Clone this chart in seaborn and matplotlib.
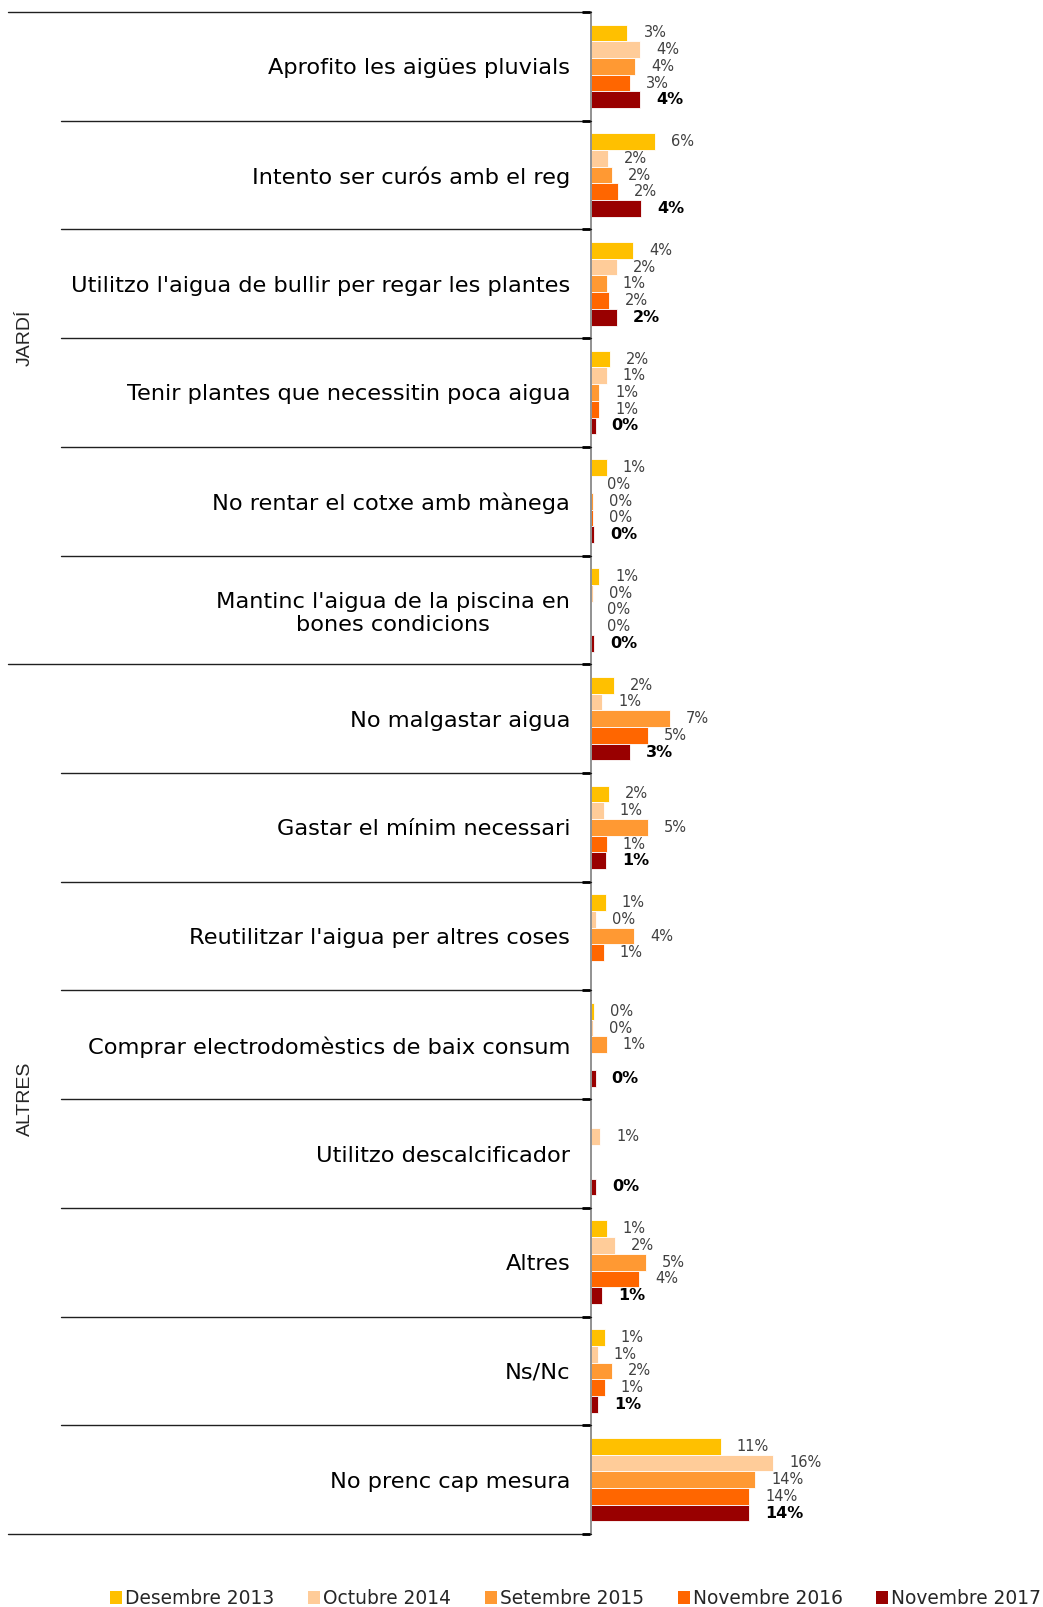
import numpy as np
import pandas as pd
import seaborn as sns
import matplotlib.pyplot as plt
from matplotlib.lines import Line2D
from matplotlib.patches import Patch
from matplotlib.transforms import blended_transform_factory

sns.set_style("white")
plt.rcParams['font.family'] = ['DejaVu Sans']

categories = [
    "Aprofito les aigües pluvials",
    "Intento ser curós amb el reg",
    "Utilitzo l'aigua de bullir per regar les plantes",
    "Tenir plantes que necessitin poca aigua",
    "No rentar el cotxe amb mànega",
    "Mantinc l'aigua de la piscina en\nbones condicions",
    "No malgastar aigua",
    "Gastar el mínim necessari",
    "Reutilitzar l'aigua per altres coses",
    "Comprar electrodomèstics de baix consum",
    "Utilitzo descalcificador",
    "Altres",
    "Ns/Nc",
    "No prenc cap mesura",
]
series = ["Desembre 2013", "Octubre 2014", "Setembre 2015", "Novembre 2016", "Novembre 2017"]
colors = ["#FFC000", "#FFCC99", "#FF9933", "#FF6600", "#990000"]

nan = np.nan
des2013 = [3.2, 5.6, 3.7, 1.7, 1.4, 0.7, 2.0, 1.6, 1.3, 0.3, nan, 1.4, 1.2, 11.4]
oct2014 = [4.3, 1.5, 2.3, 1.4, 0.0, 0.2, 1.0, 1.1, 0.4, 0.2, 0.8, 2.1, 0.6, 16.0]
set2015 = [3.9, 1.8, 1.4, 0.7, 0.2, 0.0, 6.9, 5.0, 3.8, 1.4, nan, 4.8, 1.8, 14.4]
nov2016 = [3.4, 2.4, 1.6, 0.7, 0.2, 0.0, 5.0, 1.4, 1.1, nan, nan, 4.2, 1.2, 13.9]
nov2017 = [4.3, 4.4, 2.3, 0.4, 0.3, 0.3, 3.4, 1.3, nan, 0.4, 0.45, 1.0, 0.6, 13.9]

groups = [("JARDÍ", 0, 6), ("ALTRES", 6, 14)]

rows = []
for name, vals in zip(series, [des2013, oct2014, set2015, nov2016, nov2017]):
    for cat, v in zip(categories, vals):
        rows.append({"cat": cat, "serie": name, "val": v})
df = pd.DataFrame(rows)

W, H = 1043, 1607
fig = plt.figure(figsize=(W / 100, H / 100), dpi=100)
ax_left = 591 / W
ax_top = 1 - 12 / H
ax_bot = 1 - 1534 / H
ax = fig.add_axes([ax_left, ax_bot, 1 - ax_left, ax_top - ax_bot])

sns.barplot(data=df, y="cat", x="val", hue="serie", order=categories,
            hue_order=series, palette=colors, saturation=1, orient="h", width=0.77,
            edgecolor="white", linewidth=0.6, ax=ax, legend=False)

px_per_pct = 11.4
ax.set_xlim(0, (W - 591) / px_per_pct)
ax.set_ylim(len(categories) - 0.5, -0.5)

for i, cont in enumerate(ax.containers):
    last = i == len(series) - 1
    labels = [f"{int(round(v))}%" for v in cont.datavalues]
    ax.bar_label(cont, labels=labels, padding=11.5,
                 fontsize=10.5 if not last else 11.5,
                 fontweight="bold" if last else "normal",
                 color="black" if last else "#404040")

sns.despine(ax=ax, top=True, right=True, bottom=True, left=False)
ax.spines["left"].set_color("#7f7f7f")
ax.spines["left"].set_linewidth(1.2)
ax.set_xticks([])
ax.set_xlabel("")
ax.set_ylabel("")
ax.tick_params(axis="y", length=0, pad=15, labelsize=16.2, labelcolor="black")
for lbl in ax.get_yticklabels():
    lbl.set_multialignment("center")

# separator lines between categories
tr = blended_transform_factory(fig.transFigure, ax.transData)
group_edges = {g[1] for g in groups} | {groups[-1][2]}
for k in range(len(categories) + 1):
    x0 = 8 / W if k in group_edges else 61 / W
    fig.add_artist(Line2D([x0, ax_left], [k - 0.5, k - 0.5], transform=tr,
                          color="#202020", linewidth=1.0, clip_on=False))
    fig.add_artist(Line2D([ax_left - 9 / W, ax_left - 1 / W], [k - 0.5, k - 0.5], transform=tr,
                          color="black", linewidth=2.0, solid_capstyle="butt", clip_on=False))

for name, a, b in groups:
    fig.text(25 / W, 0, name, transform=tr, rotation=90, ha="center", va="center",
             fontsize=14, family="Liberation Sans")
    fig.texts[-1].set_y((a + b - 1) / 2)

handles = [Patch(facecolor=c, edgecolor="none") for c in colors]
fig.legend(handles, series, loc="lower center", bbox_to_anchor=(0.552, -0.011), ncol=5,
           frameon=False, fontsize=13.4, handlelength=0.65, handleheight=0.65,
           handletextpad=0.15, columnspacing=1.82)

fig.savefig("out.png", dpi=100, facecolor="white")
